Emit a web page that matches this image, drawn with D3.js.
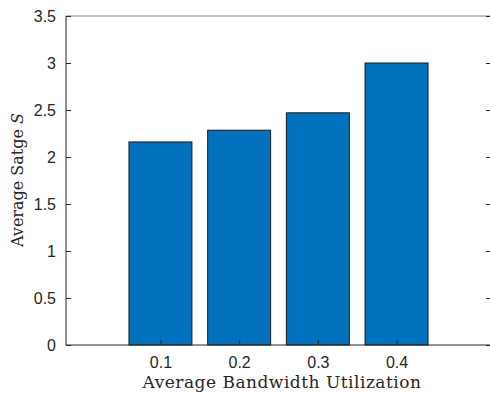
<!DOCTYPE html>
<html>
<head>
<meta charset="utf-8">
<script src="https://cdn.jsdelivr.net/npm/d3@7"></script>
<style>
  body { margin: 0; background: #fff; }
  text { fill: #262626; }
</style>
</head>
<body>
<svg width="490" height="393"></svg>
<script>
var categories = ["0.1", "0.2", "0.3", "0.4"]
var stageValues = [2.16, 2.285, 2.47, 3.0]
var yTicks = [0, 0.5, 1, 1.5, 2, 2.5, 3, 3.5]

var margins = {top: 16, left: 66, bottom: 48}
var plotW = 425
var plotH = 393 - margins.top - margins.bottom

var svg = d3.select("svg")

// bars sit at positions 1..4, MATLAB style
var xScale = d3.scaleLinear()
                .domain([1 - 1.2, 4 + 1.2])
                .range([margins.left, margins.left + plotW])

var yScale = d3.scaleLinear()
                .domain([0, 3.5])
                .range([margins.top + plotH, margins.top])

var barW = (xScale(2) - xScale(1)) * 0.8

// top box line
svg.append("line")
    .attr("x1", margins.left).attr("x2", margins.left + plotW)
    .attr("y1", margins.top).attr("y2", margins.top)
    .attr("stroke", "#808080").attr("stroke-width", 1.2)

// bars
svg.append("g")
    .selectAll("rect")
    .data(stageValues)
    .enter()
    .append("rect")
    .attr("x", function(d, i){ return xScale(i + 1) - barW / 2 })
    .attr("y", function(d){ return yScale(d) })
    .attr("width", barW)
    .attr("height", function(d){ return yScale(0) - yScale(d) })
    .attr("fill", "#0072BD")
    .attr("stroke", "#1a1a1a")
    .attr("stroke-width", 1)

// left axis, ticks inward
var yAxis = d3.axisLeft(yScale)
                .tickValues(yTicks)
                .tickSize(-5)
                .tickPadding(10)
                .tickFormat(function(d){ return d })

var gy = svg.append("g")
    .attr("transform", "translate(" + margins.left + ",0)")
    .call(yAxis)
gy.select(".domain").attr("stroke", "#262626").attr("d", "M0," + yScale(0) + "V" + yScale(3.5))
gy.selectAll(".tick line").attr("stroke", "#262626")
gy.selectAll("text")
    .style("font-family", "'Liberation Sans', Arial, sans-serif")
    .style("font-size", "16px")
    .attr("fill", "#262626")

// right-side ticks
var gr = svg.append("g")
    .attr("transform", "translate(" + (margins.left + plotW) + ",0)")
    .call(d3.axisRight(yScale).tickValues(yTicks).tickSize(-5).tickFormat(""))
gr.select(".domain").remove()
gr.selectAll(".tick line").attr("stroke", "#262626")

// bottom axis, ticks inward
var xAxis = d3.axisBottom(xScale)
                .tickValues([1, 2, 3, 4])
                .tickSize(-5)
                .tickPadding(12)
                .tickFormat(function(d){ return categories[d - 1] })

var gx = svg.append("g")
    .attr("transform", "translate(0," + yScale(0) + ")")
    .call(xAxis)
gx.select(".domain").attr("stroke", "#262626").attr("d", "M" + margins.left + ",0H" + (margins.left + plotW))
gx.selectAll(".tick line").attr("stroke", "#262626")
gx.selectAll("text")
    .style("font-family", "'Liberation Sans', Arial, sans-serif")
    .style("font-size", "16px")
    .attr("fill", "#262626")

// axis labels
svg.append("text")
    .attr("x", 282)
    .attr("y", 388)
    .attr("text-anchor", "middle")
    .style("font-family", "'DejaVu Serif', serif")
    .style("font-size", "17px")
    .style("letter-spacing", "0.5px")
    .text("Average Bandwidth Utilization")

var yl = svg.append("text")
    .attr("transform", "translate(23," + 180 + ") rotate(-90)")
    .attr("text-anchor", "middle")
    .style("font-family", "'DejaVu Serif', serif")
    .style("font-size", "16px")
yl.append("tspan").text("Average Satge ")
yl.append("tspan").style("font-style", "italic").text("S")
</script>
</body>
</html>
